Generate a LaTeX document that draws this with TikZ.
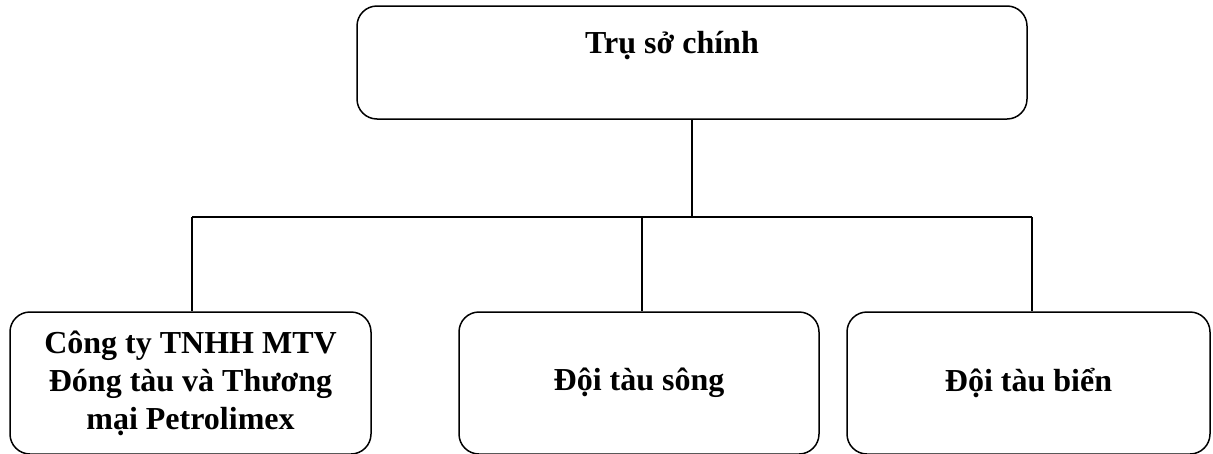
\documentclass[tikz,border=0pt]{standalone}
\usepackage{fontspec}
\setmainfont{Liberation Serif}
\begin{document}
\begin{tikzpicture}[x=1pt,y=-1pt,
  box/.style={draw, line width=1.5pt, rounded corners=20pt, inner sep=0pt},
  txt/.style={font=\fontsize{32}{38}\selectfont\bfseries, align=center, inner sep=0pt},
  conn/.style={line width=1.5pt}]
\useasboundingbox (0,0) rectangle (1213,453);
\node[box, minimum width=670pt, minimum height=113pt] (top) at (692,62.5) {};
\node[txt, anchor=base] (toptxt) at (672,53) {Trụ sở chính};
\node[box, minimum width=361pt, minimum height=142pt, txt] (left) at (190.5,383) {Công ty TNHH MTV\\Đóng tàu và Thương\\mại Petrolimex};
\node[box, minimum width=360pt, minimum height=142pt, txt] (mid) at (639,383) {Đội tàu sông};
\node[box, minimum width=363pt, minimum height=142pt, txt] (right) at (1028.5,383) {Đội tàu biển};
\coordinate (j) at (692,217);
\coordinate (jl) at (192,217);
\coordinate (jm) at (642,217);
\coordinate (jr) at (1032,217);
\draw[conn] (top.south) -- (j);
\draw[conn] (jl) -- (jr);
\draw[conn] (jl) -- (jl |- left.north);
\draw[conn] (jm) -- (jm |- mid.north);
\draw[conn] (jr) -- (jr |- right.north);
\end{tikzpicture}
\end{document}
